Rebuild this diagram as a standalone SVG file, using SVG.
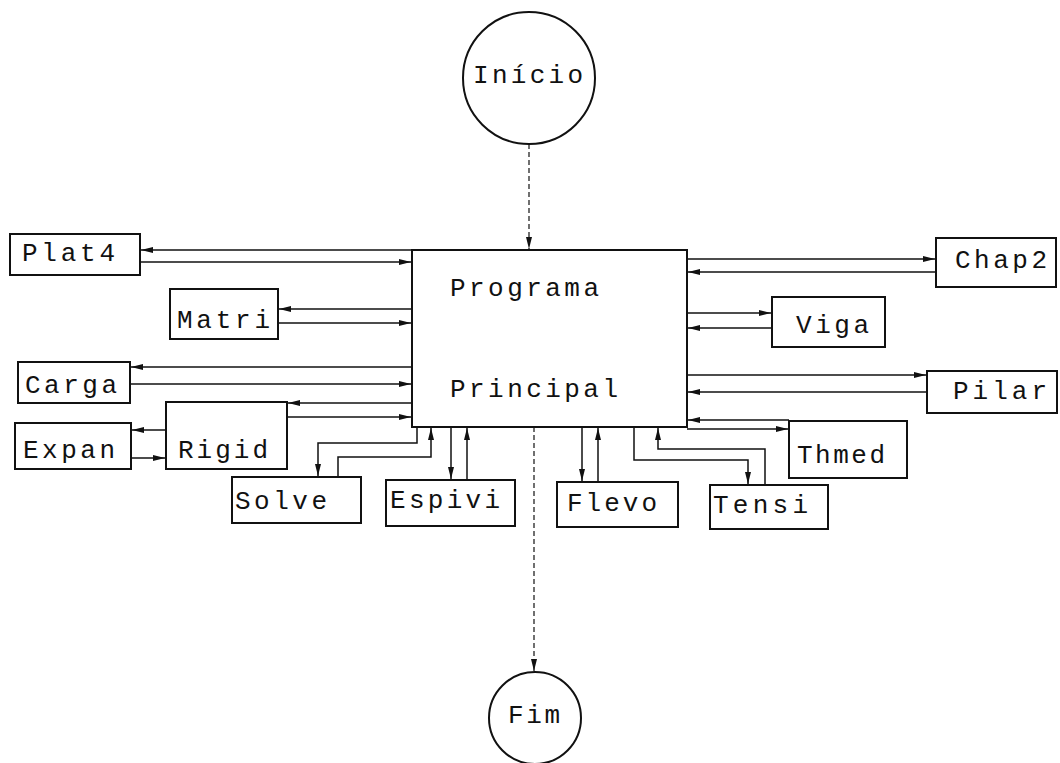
<svg xmlns="http://www.w3.org/2000/svg" width="1060" height="763" viewBox="0 0 1060 763">
<style>
.box{fill:#fff;stroke:#111;stroke-width:2}
.t{font-family:"Liberation Mono","DejaVu Sans Mono",monospace;font-size:26px;fill:#111}
.c{fill:none;stroke:#111;stroke-width:1.5}
.d{fill:none;stroke:#111;stroke-width:1.2;stroke-dasharray:5 3}
</style>
<defs>
<marker id="a" markerUnits="userSpaceOnUse" markerWidth="13" markerHeight="8" refX="12" refY="4" orient="auto">
<path d="M0,1 L12,4 L0,7 Z" fill="#111"/>
</marker>
</defs>
<rect width="1060" height="763" fill="#fff"/>
<g id="connectors">
<path class="d" d="M529,144 V249" marker-end="url(#a)"/>
<path class="d" d="M534,427 V671" marker-end="url(#a)"/>
<path class="c" d="M412,250 H141" marker-end="url(#a)"/>
<path class="c" d="M140,262 H411" marker-end="url(#a)"/>
<path class="c" d="M412,309 H279" marker-end="url(#a)"/>
<path class="c" d="M278,323 H411" marker-end="url(#a)"/>
<path class="c" d="M412,367 H131" marker-end="url(#a)"/>
<path class="c" d="M130,384 H411" marker-end="url(#a)"/>
<path class="c" d="M412,403 H288" marker-end="url(#a)"/>
<path class="c" d="M287,417 H411" marker-end="url(#a)"/>
<path class="c" d="M166,430 H132" marker-end="url(#a)"/>
<path class="c" d="M131,458 H165" marker-end="url(#a)"/>
<path class="c" d="M417,427 V443 H318 V476" marker-end="url(#a)"/>
<path class="c" d="M338,477 V457 H431 V428" marker-end="url(#a)"/>
<path class="c" d="M451,427 V479" marker-end="url(#a)"/>
<path class="c" d="M467,480 V428" marker-end="url(#a)"/>
<path class="c" d="M582,427 V481" marker-end="url(#a)"/>
<path class="c" d="M598,482 V428" marker-end="url(#a)"/>
<path class="c" d="M634,427 V460 H748 V484" marker-end="url(#a)"/>
<path class="c" d="M765,485 V449 H658 V428" marker-end="url(#a)"/>
<path class="c" d="M789,420 H688" marker-end="url(#a)"/>
<path class="c" d="M687,429 H788" marker-end="url(#a)"/>
<path class="c" d="M687,375 H926" marker-end="url(#a)"/>
<path class="c" d="M927,392 H688" marker-end="url(#a)"/>
<path class="c" d="M687,313 H771" marker-end="url(#a)"/>
<path class="c" d="M772,328 H688" marker-end="url(#a)"/>
<path class="c" d="M687,259 H935" marker-end="url(#a)"/>
<path class="c" d="M936,272 H688" marker-end="url(#a)"/>
</g>
<g id="inicio"><circle class="box" cx="529" cy="78" r="66"/><text class="t" x="473" y="83" textLength="110" lengthAdjust="spacing">Início</text></g>
<g id="fim"><circle class="box" cx="535" cy="718" r="46"/><text class="t" x="508" y="723" textLength="52" lengthAdjust="spacing">Fim</text></g>
<g id="principal"><rect class="box" x="412" y="250" width="275" height="177"/>
<text class="t" x="450" y="296" textLength="149" lengthAdjust="spacing">Programa</text>
<text class="t" x="450" y="397" textLength="168" lengthAdjust="spacing">Principal</text></g>
<g id="plat4"><rect class="box" x="10" y="234" width="130" height="41"/><text class="t" x="22" y="261" textLength="93" lengthAdjust="spacing">Plat4</text></g>
<g id="matri"><rect class="box" x="170" y="289" width="108" height="50"/><text class="t" x="177" y="328" textLength="93" lengthAdjust="spacing">Matri</text></g>
<g id="carga"><rect class="box" x="18" y="362" width="112" height="41"/><text class="t" x="25" y="393" textLength="92" lengthAdjust="spacing">Carga</text></g>
<g id="rigid"><rect class="box" x="166" y="402" width="121" height="67"/><text class="t" x="178" y="458" textLength="90" lengthAdjust="spacing">Rigid</text></g>
<g id="expan"><rect class="box" x="15" y="423" width="116" height="46"/><text class="t" x="23" y="458" textLength="92" lengthAdjust="spacing">Expan</text></g>
<g id="solve"><rect class="box" x="232" y="477" width="129" height="46"/><text class="t" x="235" y="509" textLength="92" lengthAdjust="spacing">Solve</text></g>
<g id="espivi"><rect class="box" x="386" y="480" width="129" height="46"/><text class="t" x="390" y="508" textLength="110" lengthAdjust="spacing">Espivi</text></g>
<g id="flevo"><rect class="box" x="557" y="482" width="121" height="45"/><text class="t" x="567" y="511" textLength="90" lengthAdjust="spacing">Flevo</text></g>
<g id="tensi"><rect class="box" x="710" y="485" width="118" height="44"/><text class="t" x="713" y="513" textLength="95" lengthAdjust="spacing">Tensi</text></g>
<g id="thmed"><rect class="box" x="789" y="421" width="118" height="57"/><text class="t" x="797" y="463" textLength="88" lengthAdjust="spacing">Thmed</text></g>
<g id="pilar"><rect class="box" x="927" y="371" width="130" height="42"/><text class="t" x="953" y="399" textLength="94" lengthAdjust="spacing">Pilar</text></g>
<g id="viga"><rect class="box" x="772" y="297" width="113" height="50"/><text class="t" x="796" y="333" textLength="73" lengthAdjust="spacing">Viga</text></g>
<g id="chap2"><rect class="box" x="936" y="238" width="120" height="49"/><text class="t" x="955" y="268" textLength="92" lengthAdjust="spacing">Chap2</text></g>
</svg>
